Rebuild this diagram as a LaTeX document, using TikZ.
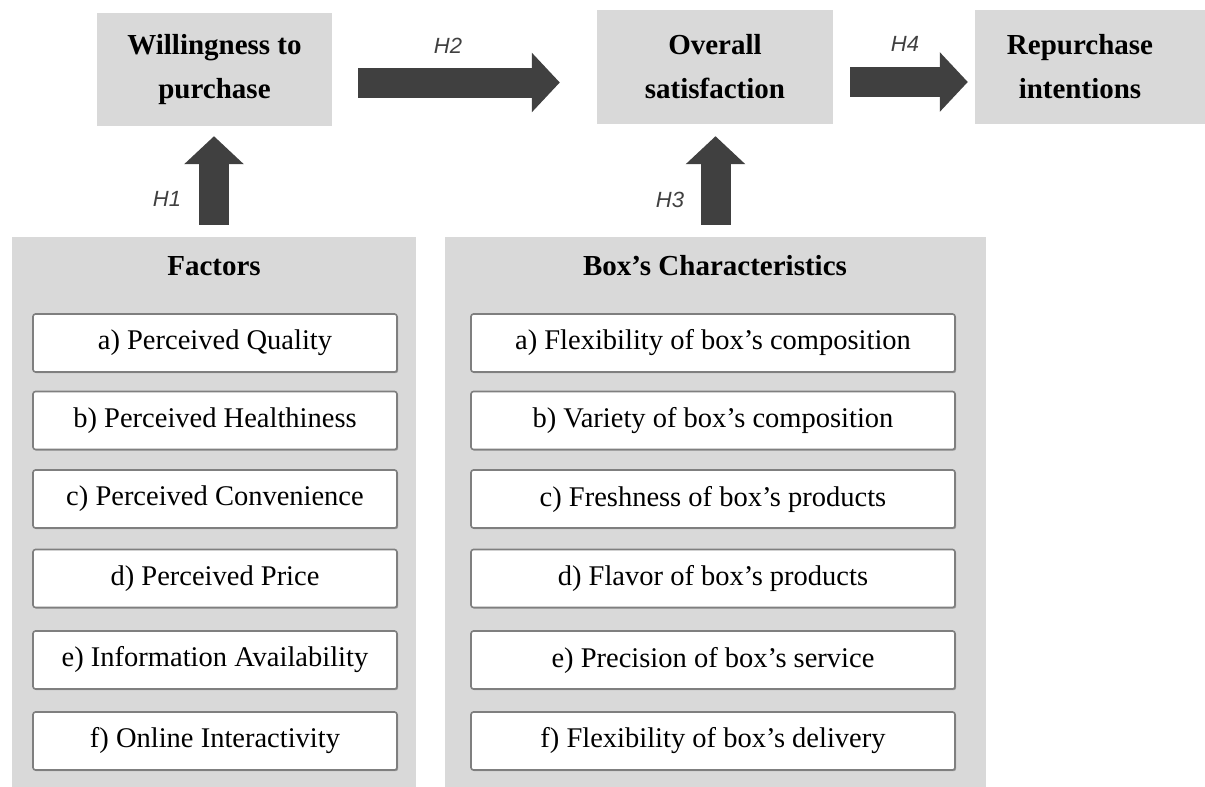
\documentclass[tikz,border=0pt]{standalone}
\usepackage{fontspec}
\setmainfont{Liberation Serif}
\newfontfamily\hfont{Liberation Sans}
\usetikzlibrary{arrows.meta,shadows}
\definecolor{panelgray}{HTML}{D9D9D9}
\definecolor{arrowgray}{HTML}{404040}
\definecolor{bordergray}{HTML}{7F7F7F}
\begin{document}
\begin{tikzpicture}[x=1pt,y=-1pt,
  topbox/.style={fill=panelgray, draw=none, inner sep=0pt, align=center,
    font=\fontsize{29}{44}\selectfont\bfseries},
  panelbox/.style={fill=panelgray, draw=none, inner sep=0pt},
  paneltitle/.style={inner sep=0pt, font=\fontsize{29}{34}\selectfont\bfseries},
  itembox/.style={fill=white, draw=bordergray, line width=1.6pt, rounded corners=2.5pt,
    inner sep=0pt, minimum height=58pt, font=\fontsize{28.5}{34}\selectfont,
    drop shadow={shadow xshift=1.2pt, shadow yshift=-1.2pt, opacity=0.25, fill=black}},
  bigarrow/.style={draw=arrowgray, line width=30pt,
    -{Triangle[length=28pt,width=58pt]}, arrowgray},
  hlabel/.style={inner sep=0pt, text=arrowgray, font=\hfont\itshape\fontsize{22}{26}\selectfont}
]
\useasboundingbox (0,0) rectangle (1205,787);

% top boxes
\node[topbox, minimum width=235pt, minimum height=113pt] (will) at (214.5,69.5) {Willingness to\\purchase};
\node[topbox, minimum width=236pt, minimum height=114pt] (over) at (715,67) {Overall\\satisfaction};
\node[topbox, minimum width=210pt, minimum height=114pt] (rep) at (1080,67) {Repurchase\\intentions};
\fill[panelgray] (rep.north east) rectangle (1205,124);

% panels
\node[panelbox, minimum width=404pt, minimum height=550pt] (fact) at (214,512) {};
\node[panelbox, minimum width=541pt, minimum height=550pt] (char) at (715.5,512) {};
\node[paneltitle] (facttitle) at (214,266) {Factors};
\node[paneltitle] (chartitle) at (715,266) {Box’s Characteristics};

% factor items
\node[itembox, minimum width=364pt] (fa) at (215,343) {a) Perceived Quality};
\node[itembox, minimum width=364pt] (fb) at (215,420.5) {b) Perceived Healthiness};
\node[itembox, minimum width=364pt] (fc) at (215,499) {c) Perceived Convenience};
\node[itembox, minimum width=364pt] (fd) at (215,578.5) {d) Perceived Price};
\node[itembox, minimum width=364pt] (fe) at (215,660) {e) Information Availability};
\node[itembox, minimum width=364pt] (ff) at (215,741) {f) Online Interactivity};

% characteristic items
\node[itembox, minimum width=484pt] (ca) at (713,343) {a) Flexibility of box’s composition};
\node[itembox, minimum width=484pt] (cb) at (713,420.5) {b) Variety of box’s composition};
\node[itembox, minimum width=484pt] (cc) at (713,499) {c) Freshness of box’s products};
\node[itembox, minimum width=484pt] (cd) at (713,578.5) {d) Flavor of box’s products};
\node[itembox, minimum width=484pt] (ce) at (713,660) {e) Precision of box’s service};
\node[itembox, minimum width=484pt] (cf) at (713,741) {f) Flexibility of box’s delivery};

% arrows
\draw[bigarrow, shorten <=12pt, shorten >=10pt] (fact.north) -- (fact.north |- will.south);
\draw[bigarrow, shorten <=12pt, shorten >=12pt] (char.north) -- (char.north |- over.south);
\draw[bigarrow, shorten <=26pt, shorten >=37pt] ([yshift=-13pt]will.east) -- ([yshift=-15.5pt]over.west);
\draw[bigarrow, shorten <=17pt, shorten >=7pt] ([yshift=-15pt]over.east) -- ([yshift=-15pt]rep.west);

% labels
\node[hlabel] (h1) at (167,199) {H1};
\node[hlabel] (h2) at (448,46) {H2};
\node[hlabel] (h3) at (670,200) {H3};
\node[hlabel] (h4) at (905,44) {H4};
\end{tikzpicture}
\end{document}
